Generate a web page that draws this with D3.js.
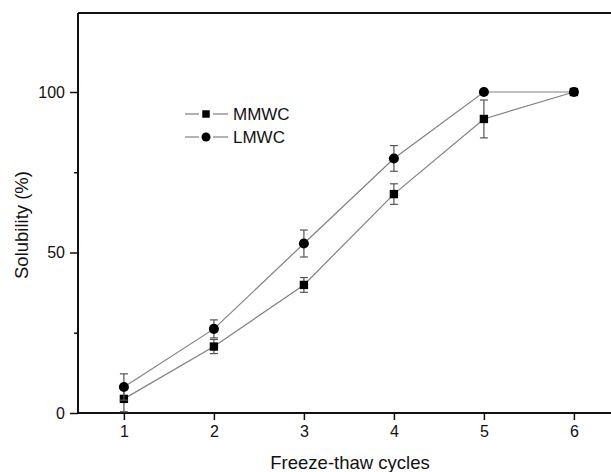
<!DOCTYPE html>
<html>
<head>
<meta charset="utf-8">
<script src="https://cdn.jsdelivr.net/npm/d3@7"></script>
<style>
  body { margin: 0; background: #fff; }
  text { font-family: "Liberation Sans", Arial, sans-serif; }
</style>
</head>
<body>
<div id="chart"></div>
<script>
const cycles = [1, 2, 3, 4, 5, 6];
const mmwc = [4.4, 20.7, 39.9, 68.2, 91.6, 100];
const mmwcErr = [4.0, 2.2, 2.3, 3.2, 5.9, 0];
const lmwc = [8.1, 26.2, 52.8, 79.3, 100, 100];
const lmwcErr = [4.1, 2.8, 4.2, 4.0, 0, 0];
const yMajor = [0, 50, 100];
const yMinor = [25, 75];

const width = 611, height = 472;
const plotLeft = 78, plotTop = 13, plotBottom = 413;

const svg = d3.select("#chart").append("svg")
    .attr("width", width)
    .attr("height", height);

const x = d3.scaleLinear().domain([0.49, 6.5]).range([plotLeft, plotLeft + 6.01 * 90]);
const y = d3.scaleLinear().domain([0, 100]).range([plotBottom, 92]);

// frame: top line + axes
svg.append("line")
    .attr("x1", plotLeft).attr("x2", width)
    .attr("y1", plotTop).attr("y2", plotTop)
    .attr("stroke", "#111").attr("stroke-width", 2);

const xAxis = svg.append("g")
    .attr("transform", `translate(0,${plotBottom})`)
    .call(d3.axisBottom(x).tickValues(cycles).tickSize(7).tickPadding(6).tickFormat(d3.format("d")));
xAxis.select(".domain").attr("d", `M${plotLeft},0H${width}`).attr("stroke-width", 2).attr("stroke", "#111");

const yAxis = svg.append("g")
    .attr("transform", `translate(${plotLeft},0)`)
    .call(d3.axisLeft(y).tickValues(yMajor).tickSize(8).tickPadding(5));
yAxis.select(".domain").attr("d", `M0,${plotTop}V${plotBottom}`).attr("stroke-width", 2).attr("stroke", "#111");

svg.append("g")
    .attr("transform", `translate(${plotLeft},0)`)
    .call(d3.axisLeft(y).tickValues(yMinor).tickSize(4).tickFormat(""))
    .select(".domain").remove();

svg.selectAll(".tick line").attr("stroke", "#111").attr("stroke-width", 1.5);
svg.selectAll(".tick text").attr("font-size", 16).attr("fill", "#111");

// axis titles
svg.append("text")
    .attr("x", 350).attr("y", 469)
    .attr("text-anchor", "middle")
    .attr("font-size", 18.5)
    .attr("fill", "#111")
    .text("Freeze-thaw cycles");

svg.append("text")
    .attr("transform", "translate(28,225) rotate(-90)")
    .attr("text-anchor", "middle")
    .attr("font-size", 18.5)
    .attr("fill", "#111")
    .text("Solubility (%)");

const series = [
    {name: "MMWC", values: mmwc, err: mmwcErr, shape: d3.symbolSquare},
    {name: "LMWC", values: lmwc, err: lmwcErr, shape: d3.symbolCircle}
];

const line = d3.line()
    .x(d => x(d[0]))
    .y(d => y(d[1]));

series.forEach(s => {
    const pts = cycles.map((c, i) => [c, s.values[i], s.err[i]]);

    svg.append("path")
        .datum(pts)
        .attr("d", line)
        .attr("fill", "none")
        .attr("stroke", "#808080")
        .attr("stroke-width", 1.2);

    const eb = svg.append("g").selectAll("g")
        .data(pts.filter(d => d[2] > 0))
        .enter().append("g")
        .attr("stroke", "#555")
        .attr("stroke-width", 1.2);
    eb.append("line")
        .attr("x1", d => x(d[0])).attr("x2", d => x(d[0]))
        .attr("y1", d => y(d[1] - d[2])).attr("y2", d => y(d[1] + d[2]));
    eb.append("line")
        .attr("x1", d => x(d[0]) - 4).attr("x2", d => x(d[0]) + 4)
        .attr("y1", d => y(d[1] + d[2])).attr("y2", d => y(d[1] + d[2]));
    eb.append("line")
        .attr("x1", d => x(d[0]) - 4).attr("x2", d => x(d[0]) + 4)
        .attr("y1", d => y(d[1] - d[2])).attr("y2", d => y(d[1] - d[2]));

    svg.append("g").selectAll("path")
        .data(pts)
        .enter().append("path")
        .attr("transform", d => `translate(${x(d[0])},${y(d[1])})`)
        .attr("d", d3.symbol().type(s.shape).size(s.shape === d3.symbolSquare ? 70 : 80))
        .attr("fill", "#000");
});

// legend
const legend = svg.selectAll(".legend")
    .data(series)
    .enter().append("g")
    .attr("class", "legend")
    .attr("transform", (d, i) => `translate(185,${114 + i * 23})`);

legend.append("line")
    .attr("x1", 0).attr("x2", 14)
    .attr("stroke", "#808080").attr("stroke-width", 1.2);
legend.append("line")
    .attr("x1", 28).attr("x2", 43)
    .attr("stroke", "#808080").attr("stroke-width", 1.2);
legend.append("path")
    .attr("transform", "translate(21,0)")
    .attr("d", d => d3.symbol().type(d.shape).size(d.shape === d3.symbolSquare ? 56 : 64)())
    .attr("fill", "#000");
legend.append("text")
    .attr("x", 48).attr("y", 0)
    .attr("dy", "0.36em")
    .attr("font-size", 17)
    .attr("fill", "#111")
    .text(d => d.name);
</script>
</body>
</html>
